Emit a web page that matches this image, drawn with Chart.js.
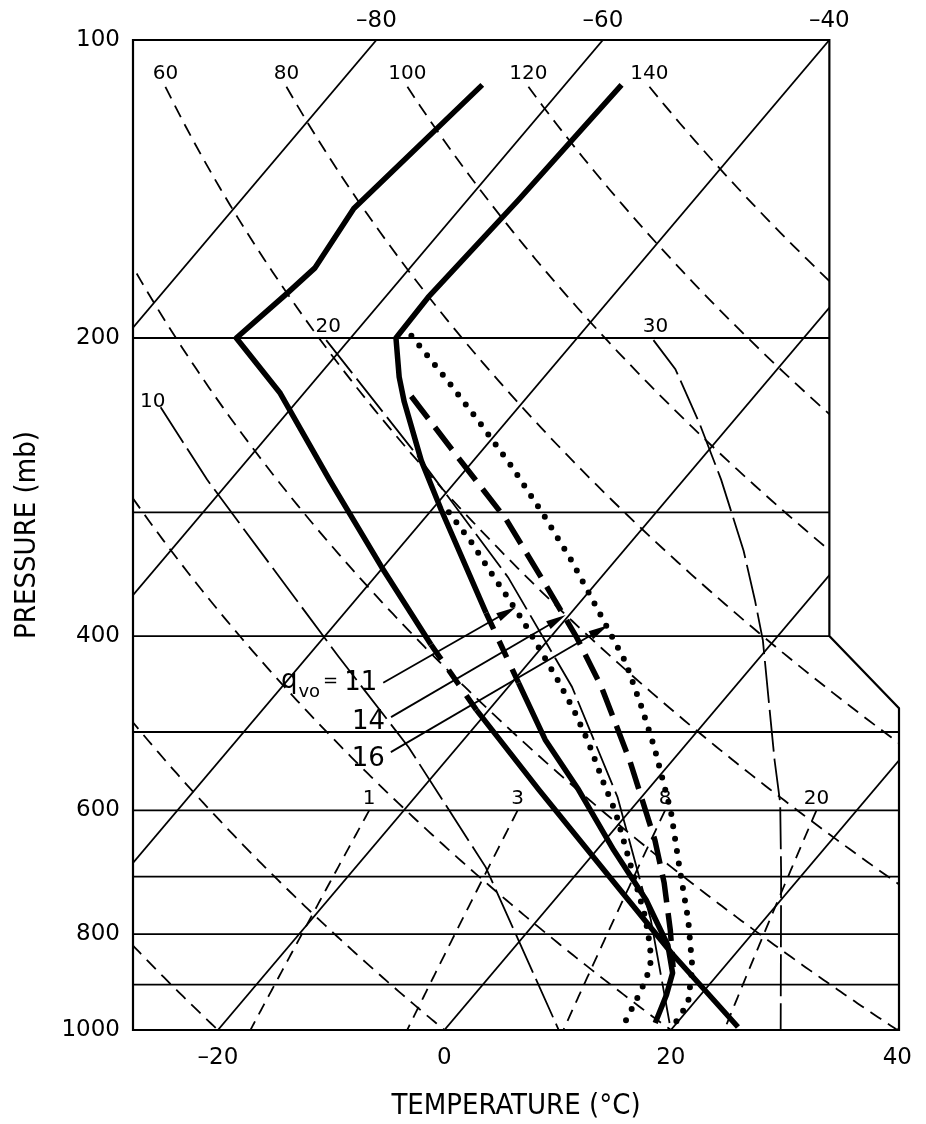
<!DOCTYPE html>
<html>
<head>
<meta charset="utf-8">
<script src="https://cdn.jsdelivr.net/npm/chart.js@4.4.1/dist/chart.umd.min.js"></script>
<style>
  html, body { margin: 0; padding: 0; background: #fff; }
</style>
</head>
<body>
<canvas id="chart" width="926" height="1124"></canvas>
<script>
// ---- values ----
const pressureTicks = [100, 200, 400, 600, 800, 1000];
const temperatureTicks = [-20, 0, 20, 40];
const topTemperatureTicks = [-80, -60, -40];
const isobars = [200, 300, 400, 500, 600, 700, 800, 900];
const isotherms = [-80, -60, -40, -20, 0, 20, 40];
const dryAdiabats = [-20, 0, 20, 40, 60, 80, 100, 120, 140];
const dryAdiabatLabels = [60, 80, 100, 120, 140];
const mixingRatios = [1, 3, 8, 20];

// moist adiabats (labelled 10, 20, 30): pressure (mb) / temperature (°C)
const moistLabels = [10, 20, 30];
const moist10P = [235, 278, 420, 518, 685, 811, 1000];
const moist10T = [-71.6, -62.1, -37.2, -24.3, -8.5, -0.2, 10.1];
const moist20P = [201, 266, 349, 450, 582, 774, 1000];
const moist20T = [-62.0, -44.6, -28.2, -14.4, -2.1, 10.0, 20.0];
const moist30P = [201, 215, 244, 278, 328, 368, 404, 475, 534, 590, 694, 1000];
const moist30T = [-33.1, -29.0, -22.8, -16.7, -9.4, -4.7, -1.0, 4.8, 9.0, 12.7, 18.0, 29.7];

// heavy solid curves
const soundingAP = [111, 148, 170, 181, 200, 227, 278, 341, 408, 475, 572, 677, 836, 993];
const soundingAT = [-67.3, -69.4, -68.4, -69.0, -70.1, -62.2, -51.3, -40.1, -30.0, -21.1, -9.6, 1.0, 14.3, 25.7];
const soundingBP = [111, 145, 182, 200, 219, 232, 266, 298, 379, 446, 509, 572, 658, 739, 821, 876, 922, 984];
const soundingBT = [-55.0, -55.5, -56.2, -56.0, -52.8, -50.5, -44.6, -39.2, -27.5, -19.4, -12.8, -6.1, 1.5, 8.1, 13.4, 15.9, 17.0, 18.1];

// parcel curves for q_vo = 11 (dotted), 14 (heavy dashed), 16 (dotted)
const parcelLabels = ['11', '14', '16'];
const parcel11P = [300, 322, 342, 364, 385, 441, 475, 512, 563, 602, 678, 769, 825, 864, 911, 1000];
const parcel11T = [-38.3, -34.0, -30.6, -27.0, -23.8, -16.4, -12.5, -8.8, -4.4, -1.2, 3.9, 9.3, 12.0, 13.5, 14.4, 15.6];
const parcel14P = [229, 264, 305, 354, 401, 450, 534, 643, 710, 793, 864];
const parcel14T = [-50.3, -41.6, -32.7, -24.5, -17.7, -11.8, -3.8, 4.4, 8.4, 12.5, 15.5];
const parcel16P = [199, 220, 243, 270, 302, 336, 384, 425, 470, 518, 602, 685, 774, 864, 939, 1000];
const parcel16T = [-54.8, -48.5, -42.4, -36.1, -29.7, -23.8, -16.8, -11.5, -6.9, -2.6, 3.7, 8.6, 13.3, 17.2, 19.5, 20.0];

// ---- diagram geometry ----
const SKEW = 74;             // °C of x shift per decade of pressure
const X_MIN = -27.5, X_MAX = 40.15;
const DRY_TOP = 111.5;       // labelled dry adiabats start here
const frameOutline = [[X_MIN, 100], [34, 100], [34, 400], [X_MAX, 473], [X_MAX, 1000], [X_MIN, 1000]];
// arrows from the q_vo labels to the parcel curves [T, p]
const arrowTails = [[-31.35, 446], [-28.1, 483], [-25.5, 524]];
const arrowTips = [[-25.3, 374], [-20.3, 381], [-15.8, 390]];

const NUM_FONT = '"DejaVu Sans", sans-serif';
const TITLE_FONT = '"Liberation Sans Narrow", "DejaVu Sans Condensed", sans-serif';
const THIN = 1.8;

function skewX(t, p) { return t + SKEW * Math.log10(1000 / p); }
function pts(ps, ts) { return ps.map((p, i) => ({ x: skewX(ts[i], p), y: p })); }
function levels(top, bottom) {
  const out = [];
  for (let p = top; p < bottom; p += 5) out.push(p);
  out.push(bottom);
  return out;
}
function dryT(theta, p) { return (theta + 273.15) * Math.pow(p / 1000, 0.2857) - 273.15; }
function mixT(w, p) {
  const e = w * p / (622 + w);
  const a = Math.log(e / 6.112);
  return 243.5 * a / (17.67 - a);
}
function line(data, opts) {
  return Object.assign({
    data, showLine: true, pointRadius: 0, fill: false, tension: 0,
    borderColor: '#000', borderWidth: THIN
  }, opts);
}
function fmt(v) { return v < 0 ? '\u2013' + Math.abs(v) : String(v); }

const datasets = [];
isobars.forEach(p => datasets.push(line([{ x: X_MIN, y: p }, { x: X_MAX, y: p }])));
isotherms.forEach(t => datasets.push(line([{ x: skewX(t, 1000), y: 1000 }, { x: skewX(t, 100), y: 100 }])));
dryAdiabats.forEach(th => {
  const top = dryAdiabatLabels.includes(th) ? DRY_TOP : 100;
  datasets.push(line(levels(top, 1000).map(p => ({ x: skewX(dryT(th, p), p), y: p })), { borderDash: [13, 8] }));
});
mixingRatios.forEach(w => {
  datasets.push(line(levels(600, 1000).map(p => ({ x: skewX(mixT(w, p), p), y: p })), { borderDash: [12, 8] }));
});
[[moist10P, moist10T], [moist20P, moist20T], [moist30P, moist30T]].forEach(([ps, ts]) => {
  datasets.push(line(pts(ps, ts), { borderDash: [42, 7] }));
});

const dashGap = i => ({ borderDash: c => c.p0DataIndex === i ? [18, 13] : undefined });
datasets.push(line(pts(soundingAP, soundingAT), { borderWidth: 5.5, borderJoinStyle: 'round', segment: dashGap(8) }));
datasets.push(line(pts(soundingBP, soundingBT), { borderWidth: 5.5, borderJoinStyle: 'round', segment: dashGap(8) }));
datasets.push(line(pts(parcel11P, parcel11T), { borderWidth: 6, borderDash: [0, 12.5], borderCapStyle: 'round' }));
datasets.push(line(pts(parcel14P, parcel14T), { borderWidth: 5.5, borderDash: [28, 11] }));
datasets.push(line(pts(parcel16P, parcel16T), { borderWidth: 6, borderDash: [0, 12.5], borderCapStyle: 'round' }));

function traceFrame(ctx, x, y) {
  ctx.beginPath();
  frameOutline.forEach(([xv, p], i) => {
    const px = x.getPixelForValue(xv), py = y.getPixelForValue(p);
    if (i === 0) ctx.moveTo(px, py); else ctx.lineTo(px, py);
  });
  ctx.closePath();
}

function arrow(ctx, x0, y0, x1, y1) {
  const a = Math.atan2(y1 - y0, x1 - x0);
  const len = 20, half = 4.5;
  ctx.beginPath();
  ctx.moveTo(x0, y0);
  ctx.lineTo(x1 - Math.cos(a) * len * 0.8, y1 - Math.sin(a) * len * 0.8);
  ctx.lineWidth = THIN;
  ctx.stroke();
  ctx.beginPath();
  ctx.moveTo(x1, y1);
  ctx.lineTo(x1 - Math.cos(a) * len - Math.sin(a) * half, y1 - Math.sin(a) * len + Math.cos(a) * half);
  ctx.lineTo(x1 - Math.cos(a) * len + Math.sin(a) * half, y1 - Math.sin(a) * len - Math.cos(a) * half);
  ctx.closePath();
  ctx.fill();
}

const framePlugin = {
  id: 'skewFrame',
  beforeDatasetsDraw(chart) {
    const { ctx, scales: { x, y } } = chart;
    ctx.save();
    traceFrame(ctx, x, y);
    ctx.clip();
  },
  afterDatasetsDraw(chart) {
    const { ctx, scales: { x, y } } = chart;
    ctx.restore();
    ctx.save();
    traceFrame(ctx, x, y);
    ctx.lineWidth = 2.2;
    ctx.strokeStyle = '#000';
    ctx.stroke();

    ctx.fillStyle = '#000';
    ctx.strokeStyle = '#000';
    ctx.textAlign = 'center';
    ctx.textBaseline = 'middle';
    ctx.font = '20px ' + NUM_FONT;
    // dry adiabat labels at the top
    dryAdiabatLabels.forEach(th => {
      ctx.fillText(String(th), x.getPixelForValue(skewX(dryT(th, DRY_TOP), DRY_TOP)), y.getPixelForValue(DRY_TOP) - 13);
    });
    // moist adiabat labels at the upper ends
    [[moist10P, moist10T], [moist20P, moist20T], [moist30P, moist30T]].forEach(([ps, ts], i) => {
      const px = x.getPixelForValue(skewX(ts[0], ps[0])), py = y.getPixelForValue(ps[0]);
      if (i === 0) ctx.fillText(String(moistLabels[i]), px - 8, py - 6);
      else ctx.fillText(String(moistLabels[i]), px + 2, py - 13);
    });
    // mixing ratio labels at 600 mb
    mixingRatios.forEach(w => {
      ctx.fillText(String(w), x.getPixelForValue(skewX(mixT(w, 600), 600)), y.getPixelForValue(600) - 12);
    });

    // q_vo arrows and labels
    arrowTails.forEach((tail, i) => {
      const x0 = x.getPixelForValue(skewX(tail[0], tail[1])), y0 = y.getPixelForValue(tail[1]);
      const tip = arrowTips[i];
      const x1 = x.getPixelForValue(skewX(tip[0], tip[1])), y1 = y.getPixelForValue(tip[1]);
      arrow(ctx, x0, y0, x1, y1);
      ctx.textAlign = 'right';
      ctx.font = '26px ' + NUM_FONT;
      let right = x0 - 6;
      const ty = y0 + (i === 0 ? 0 : 3 + i * 2);
      ctx.fillText(parcelLabels[i], right, ty);
      if (i === 0) {
        right -= ctx.measureText(parcelLabels[i]).width + 6;
        ctx.font = '18px ' + NUM_FONT;
        ctx.fillText('=', right, ty - 2);
        right -= ctx.measureText('=').width + 3;
        ctx.fillText('vo', right, ty + 9);
        right -= ctx.measureText('vo').width + 1;
        ctx.font = '26px ' + NUM_FONT;
        ctx.fillText('q', right, ty - 2);
      }
    });
    ctx.restore();
  }
};

new Chart(document.getElementById('chart'), {
  type: 'scatter',
  data: { datasets },
  options: {
    responsive: false,
    animation: false,
    events: [],
    layout: { padding: { left: 0, right: 24, top: 0, bottom: 0 } },
    plugins: { legend: { display: false }, tooltip: { enabled: false } },
    scales: {
      x: {
        type: 'linear', position: 'bottom', min: X_MIN, max: X_MAX,
        grid: { display: false, drawTicks: false }, border: { display: false },
        afterBuildTicks: s => { s.ticks = temperatureTicks.map(v => ({ value: v })); },
        afterFit: s => { s.height = 94; },
        ticks: { padding: 14, color: '#000', autoSkip: false, maxRotation: 0,
                 font: { family: NUM_FONT, size: 23 }, callback: v => fmt(v) },
        title: { display: true, text: 'TEMPERATURE (°C)', color: '#000',
                 font: { family: TITLE_FONT, size: 29 }, padding: { top: 0, bottom: 0 } }
      },
      xTop: {
        type: 'linear', position: 'top', min: X_MIN - SKEW, max: X_MAX - SKEW,
        grid: { display: false, drawTicks: false }, border: { display: false },
        afterBuildTicks: s => { s.ticks = topTemperatureTicks.map(v => ({ value: v })); },
        afterFit: s => { s.height = 40; },
        ticks: { padding: 5, color: '#000', autoSkip: false, maxRotation: 0,
                 font: { family: NUM_FONT, size: 23 }, callback: v => fmt(v) }
      },
      y: {
        type: 'logarithmic', position: 'left', reverse: true, min: 100, max: 1000,
        grid: { display: false, drawTicks: false }, border: { display: false },
        afterBuildTicks: s => { s.ticks = pressureTicks.map(v => ({ value: v })); },
        afterFit: s => { s.width = 133; },
        ticks: { padding: 13, color: '#000', autoSkip: false,
                 font: { family: NUM_FONT, size: 23 }, callback: v => String(v) },
        title: { display: true, text: 'PRESSURE (mb)', color: '#000',
                 font: { family: TITLE_FONT, size: 29 }, padding: { top: 10, bottom: 0 } }
      }
    }
  },
  plugins: [framePlugin]
});
</script>
</body>
</html>
